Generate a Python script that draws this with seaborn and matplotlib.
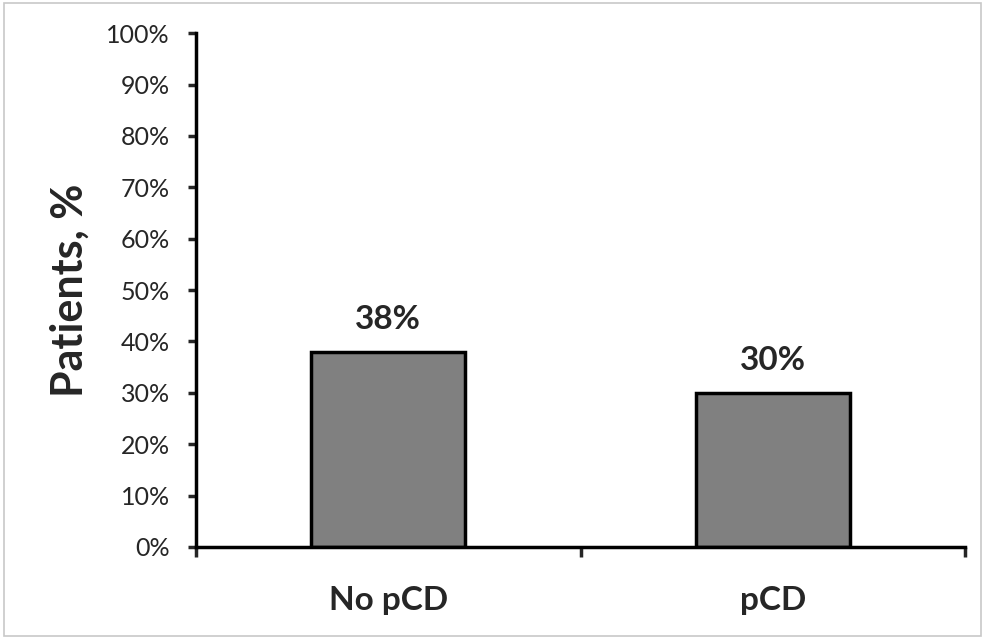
import matplotlib
matplotlib.use("Agg")
import matplotlib.pyplot as plt
import seaborn as sns
import pandas as pd
from matplotlib.patches import Rectangle
from matplotlib.ticker import FixedLocator, PercentFormatter

groups = ["No pCD", "pCD"]
patients_pct = [38, 30]
y_ticks = list(range(0, 101, 10))

sns.set_style("white")
plt.rcParams['font.family'] = ['Lato', 'DejaVu Sans']

df = pd.DataFrame({"group": groups, "pct": patients_pct})

fig = plt.figure(figsize=(9.85, 6.39), dpi=100)
ax = fig.add_axes([0.199, 0.144, 0.781, 0.804])

sns.barplot(data=df, x="group", y="pct", color="#808080", width=0.4,
            edgecolor="black", linewidth=2.5, saturation=1, ax=ax)

# value labels above bars
for i, v in enumerate(patients_pct):
    ax.text(i, v + 3.5, f"{v}%", ha="center", va="bottom",
            fontsize=24, fontweight="bold")

ax.set_xlim(-0.5, 1.5)
ax.set_ylim(0, 100)
ax.set_yticks(y_ticks)
ax.yaxis.set_major_formatter(PercentFormatter(decimals=0))
ax.tick_params(axis="y", left=True, length=6, width=2.5, labelsize=18, pad=13)

# category labels centered, tick marks at category boundaries
ax.xaxis.set_minor_locator(FixedLocator([-0.5, 0.5, 1.5]))
ax.tick_params(axis="x", which="major", bottom=True, length=0, labelsize=24, pad=28)
ax.tick_params(axis="x", which="minor", bottom=True, length=7, width=2.5, direction="out")
for lbl in ax.get_xticklabels():
    lbl.set_fontweight("bold")

ax.set_xlabel("")
ax.set_ylabel("Patients, %", fontsize=31, fontweight="bold", labelpad=12)

for side in ["top", "right"]:
    ax.spines[side].set_visible(False)
for side in ["left", "bottom"]:
    ax.spines[side].set_linewidth(2.5)
    ax.spines[side].set_color("black")

# light border around the whole picture
fig.patches.append(Rectangle((0.004, 0.005), 0.992, 0.99, transform=fig.transFigure,
                             fill=False, edgecolor="#c8c8c8", linewidth=1.2))

fig.savefig("out.png", dpi=100)
